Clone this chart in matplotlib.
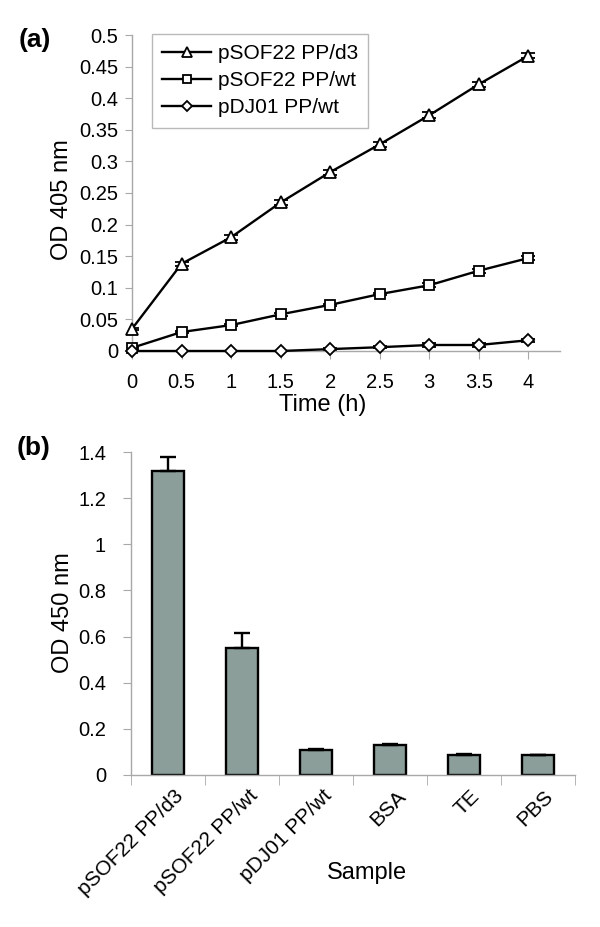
import matplotlib
matplotlib.use("Agg")
import matplotlib.pyplot as plt
import matplotlib.transforms as mtransforms
import numpy as np

plt.rcParams['font.family'] = ['Liberation Sans', 'DejaVu Sans']

# ---- Panel (a) data ----
time_h = [0, 0.5, 1, 1.5, 2, 2.5, 3, 3.5, 4]
d3_vals = [0.035, 0.138, 0.180, 0.235, 0.283, 0.327, 0.373, 0.422, 0.467]
d3_err = [0.002, 0.003, 0.004, 0.004, 0.004, 0.004, 0.005, 0.004, 0.004]
wt_vals = [0.005, 0.030, 0.041, 0.058, 0.073, 0.090, 0.104, 0.127, 0.147]
wt_err = [0.002, 0.002, 0.002, 0.002, 0.002, 0.002, 0.003, 0.003, 0.003]
dj_vals = [0.0, 0.0, 0.0, 0.0, 0.003, 0.006, 0.0095, 0.0095, 0.017]
dj_err = [0.0, 0.0, 0.0, 0.0, 0.001, 0.002, 0.003, 0.003, 0.002]
series_labels = ['pSOF22 PP/d3', 'pSOF22 PP/wt', 'pDJ01 PP/wt']
a_yticks = [0, 0.05, 0.1, 0.15, 0.2, 0.25, 0.3, 0.35, 0.4, 0.45, 0.5]
a_yticklabels = ['0', '0.05', '0.1', '0.15', '0.2', '0.25', '0.3', '0.35', '0.4', '0.45', '0.5']
a_xticklabels = ['0', '0.5', '1', '1.5', '2', '2.5', '3', '3.5', '4']

# ---- Panel (b) data ----
samples = ['pSOF22 PP/d3', 'pSOF22 PP/wt', 'pDJ01 PP/wt', 'BSA', 'TE', 'PBS']
od450 = [1.316, 0.551, 0.108, 0.130, 0.087, 0.087]
od450_err = [0.062, 0.064, 0.006, 0.006, 0.006, 0.0]
b_yticks = [0, 0.2, 0.4, 0.6, 0.8, 1.0, 1.2, 1.4]
b_yticklabels = ['0', '0.2', '0.4', '0.6', '0.8', '1', '1.2', '1.4']

W, H = 600, 927
fig = plt.figure(figsize=(6, 9.27), dpi=100)

spine_c = '#a8a8a8'
tick_fs = 14.5
leg_fs = 15
lab_fs = 17

# ---------------- Panel (a) ----------------
axa = fig.add_axes([132 / W, 1 - 351 / H, (560 - 132) / W, (351 - 35) / H])
markers = ['^', 's', 'D']
msizes = [8.5, 7.5, 6.5]
for vals, err, m, ms, lab in zip([d3_vals, wt_vals, dj_vals], [d3_err, wt_err, dj_err],
                                  markers, msizes, series_labels):
    axa.errorbar(time_h, vals, yerr=err, fmt='none', ecolor='black', elinewidth=1.3,
                 capsize=5, capthick=1.3, zorder=2)
    axa.plot(time_h, vals, color='black', lw=1.7, marker=m, ms=ms, mfc='white',
             mec='black', mew=1.3, label=lab, zorder=3, clip_on=False)

axa.set_xlim(0, 4.32)
axa.set_ylim(0, 0.5)
axa.set_yticks(a_yticks)
axa.set_yticklabels(a_yticklabels)
axa.set_xticks(time_h)
axa.set_xticklabels(a_xticklabels)
for s in ['top', 'right']:
    axa.spines[s].set_visible(False)
for s in ['left', 'bottom']:
    axa.spines[s].set_color(spine_c)
    axa.spines[s].set_linewidth(1.0)
axa.tick_params(axis='y', direction='out', length=5, color=spine_c, labelsize=tick_fs, pad=5)
axa.tick_params(axis='x', direction='out', length=6, color=spine_c, labelsize=tick_fs, pad=10)

leg = axa.legend(loc='upper left', bbox_to_anchor=(152 / W, 1 - 34 / H),
                 bbox_transform=fig.transFigure, fontsize=leg_fs, frameon=True,
                 fancybox=False, edgecolor=spine_c, handlelength=2.35, handletextpad=0.3,
                 borderpad=0.5, labelspacing=0.38, borderaxespad=0, markerscale=0.8)
leg.get_frame().set_linewidth(1.0)

fig.text(35 / W, 1 - 40 / H, '(a)', fontsize=19, fontweight='bold', ha='center', va='center')
fig.text(62 / W, 1 - 200 / H, 'OD 405 nm', fontsize=lab_fs, rotation=90, ha='center', va='center')
fig.text(323 / W, 1 - 405 / H, 'Time (h)', fontsize=lab_fs, ha='center', va='center')

# ---------------- Panel (b) ----------------
axb = fig.add_axes([131 / W, 1 - 775 / H, (575 - 131) / W, (775 - 452) / H])
x = np.arange(len(samples))
axb.bar(x, od450, width=0.42, color='#8c9e9a', edgecolor='black', linewidth=1.7, zorder=2)
axb.errorbar(x, od450, yerr=[np.zeros(len(od450)), od450_err], fmt='none', ecolor='black',
             elinewidth=1.7, capsize=5.5, capthick=1.7, zorder=3)
axb.set_xlim(-0.5, len(samples) - 0.5)
axb.set_ylim(0, 1.4)
axb.set_yticks(b_yticks)
axb.set_yticklabels(b_yticklabels)
axb.set_xticks(x)
axb.set_xticklabels(samples, rotation=45, ha='right', rotation_mode='anchor', va='center')
axb.set_xticks(np.arange(len(samples) + 1) - 0.5, minor=True)
for s in ['top', 'right']:
    axb.spines[s].set_visible(False)
for s in ['left', 'bottom']:
    axb.spines[s].set_color(spine_c)
    axb.spines[s].set_linewidth(1.0)
axb.tick_params(axis='y', direction='out', length=6, color=spine_c, labelsize=tick_fs, pad=12)
axb.tick_params(axis='x', which='major', length=0, labelsize=leg_fs, pad=13)
axb.tick_params(axis='x', which='minor', direction='out', length=7, color=spine_c)
offset = mtransforms.ScaledTranslation(9 / 72, 0, fig.dpi_scale_trans)
for lbl in axb.get_xticklabels():
    lbl.set_transform(lbl.get_transform() + offset)

fig.text(34 / W, 1 - 448 / H, '(b)', fontsize=19, fontweight='bold', ha='center', va='center')
fig.text(63 / W, 1 - 613 / H, 'OD 450 nm', fontsize=lab_fs, rotation=90, ha='center', va='center')
fig.text(367 / W, 1 - 873 / H, 'Sample', fontsize=lab_fs, ha='center', va='center')

fig.savefig('out.png', dpi=100, facecolor='white')
